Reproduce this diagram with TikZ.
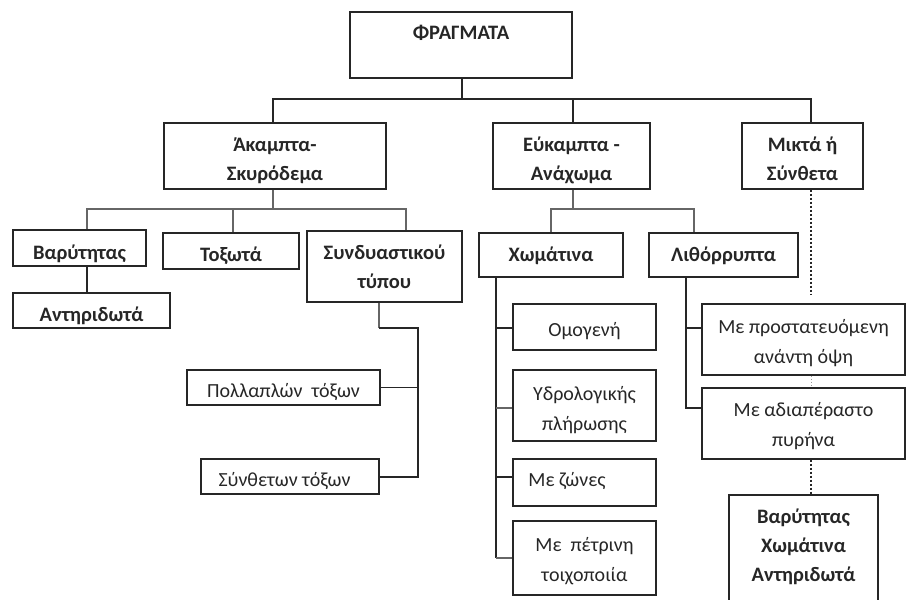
\documentclass[tikz,border=0pt]{standalone}
\usepackage{fontspec}
\setmainfont{Carlito}
\begin{document}
\begin{tikzpicture}[x=1pt,y=-1pt,
  box/.style={draw=black!85,line width=1.4pt,rectangle,inner sep=0pt,align=center,
    font=\fontsize{20.5}{29}\selectfont\bfseries,text=black!85},
  lbox/.style={box,line width=1.2pt,font=\fontsize{20}{30}\selectfont},
  bl/.style={text height=#1,text depth=0pt},
  bu/.style={text height=0pt,text depth=#1},
  main/.style={draw=black!85,line width=2pt},
  sub/.style={draw=black!60,line width=1.3pt},
  dk/.style={draw=black!85,line width=1.2pt},
  dotl/.style={draw=black!85,line width=2pt,dotted}]
\useasboundingbox (0,0) rectangle (909,599);
\begin{scope}
\clip (0,0) rectangle (909,599);
% level 1
\node[box,bu=10pt,minimum width=222pt,minimum height=66pt] (top) at (461,45) {ΦΡΑΓΜΑΤΑ};
% level 2
\node[box,bl=48pt,minimum width=222pt,minimum height=66pt] (ak) at (275,156) {Άκαμπτα-\\Σκυρόδεμα};
\node[box,bl=48pt,minimum width=157pt,minimum height=66pt] (ey) at (571.5,156) {Εύκαμπτα -\\Ανάχωμα};
\node[box,bl=48pt,minimum width=121pt,minimum height=66pt] (mi) at (802.5,156) {Μικτά ή\\Σύνθετα};
% level 3 left
\node[box,bl=22pt,minimum width=133pt,minimum height=36pt] (var) at (79.5,248) {Βαρύτητας};
\node[box,bl=21pt,minimum width=136pt,minimum height=36pt] (tox) at (231,251) {Τοξωτά};
\node[box,bl=44pt,minimum width=155pt,minimum height=71pt] (syn) at (384.5,266.5) {Συνδυαστικού\\τύπου};
\node[box,bl=22pt,minimum width=157pt,minimum height=35pt] (ant) at (91.5,310.5) {Αντηριδωτά};
\node[lbox,bl=19pt,minimum width=193pt,minimum height=35pt] (pol) at (283.5,387.5) {Πολλαπλών\ \ τόξων};
\node[lbox,bl=20pt,minimum width=178pt,minimum height=35pt] (sth) at (290,476.5) {Σύνθετων τόξων\hspace*{11pt}};
% level 3 middle
\node[box,bl=13pt,minimum width=144pt,minimum height=44pt] (xo) at (551,255) {Χωμάτινα};
\node[box,bl=12pt,minimum width=149pt,minimum height=44pt] (li) at (723.5,255) {Λιθόρρυπτα};
\node[lbox,bl=19pt,minimum width=143pt,minimum height=46pt] (om) at (584.5,327) {Ομογενή};
\node[lbox,bl=49pt,minimum width=143pt,minimum height=71pt] (yd) at (584.5,405.5) {Υδρολογικής\\πλήρωσης};
\node[lbox,bl=8pt,minimum width=143pt,minimum height=47pt] (mz) at (584.5,482.5) {Με ζώνες\hspace*{35pt}};
\node[lbox,bl=46pt,minimum width=143pt,minimum height=74pt] (mp) at (584.5,558) {Με\ \ πέτρινη\\τοιχοποιία};
\node[lbox,bl=48pt,minimum width=203pt,minimum height=71pt] (pr) at (803.5,339.5) {Με προστατευόμενη\\ανάντη όψη};
\node[lbox,bl=46pt,minimum width=203pt,minimum height=71pt] (ad) at (803.5,423.5) {Με αδιαπέραστο\\πυρήνα};
\node[box,bl=62pt,minimum width=149pt,minimum height=111pt] (mix) at (803.5,550.5) {Βαρύτητας\\Χωμάτινα\\Αντηριδωτά};
% coordinates
\coordinate (busL) at (273,99);
\coordinate (busR) at (811,99);
% level 1 -> 2
\draw[main] (top.south -| 462,0) -- (462,99);
\draw[main] (ak.north -| busL) -- (busL) -- (busR) -- (mi.north -| busR);
\draw[main] (ey.north -| 573,0) -- (573,99);
% Akampta children
\draw[sub] (ak.south -| 273,0) -- (273,209);
\draw[sub] (var.north -| 87,0) -- (87,209) -- (406,209) -- (syn.north -| 406,0);
\draw[sub] (tox.north -| 233,0) -- (233,209);
\draw[dk] (var.south -| 87,0) -- (ant.north -| 87,0);
% Syndyastikou children
\draw[sub] (syn.south -| 379,0) -- (379,328);
\draw[dk] (379,328) -- (418,328) -- (418,477) -- (sth.east |- 418,477);
\draw[dk] (pol.east) -- (pol.east -| 418,0);
% Eykampta children
\draw[sub] (ey.south -| 573,0) -- (573,209);
\draw[sub] (xo.north -| 551,0) -- (551,209) -- (694,209) -- (li.north -| 694,0);
% Xomatina children
\draw[dk] (xo.south -| 496,0) -- (496,558);
\draw[dk] (496,328) -- (om.west |- 496,328);
\draw[sub] (496,408) -- (yd.west |- 496,408);
\draw[dk] (496,477) -- (mz.west |- 496,477);
\draw[sub] (496,558) -- (mp.west |- 496,558);
% Lithorrypta children
\draw[dk] (li.south -| 686,0) -- (686,408) -- (ad.west |- 686,408);
\draw[dk] (686,328) -- (pr.west |- 686,328);
% Mikta dotted
\draw[dotl] (mi.south -| 811,0) -- (811,295);
\draw[draw=black!40,line width=1pt,dotted] (pr.south -| 811,0) -- (ad.north -| 811,0);
\draw[dotl] (ad.south -| 811,0) -- (mix.north -| 811,0);
\end{scope}
\end{tikzpicture}
\end{document}
